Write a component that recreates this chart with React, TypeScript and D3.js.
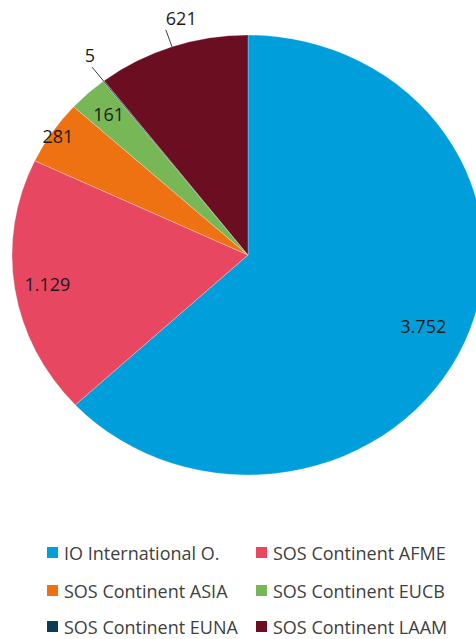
import React from "react";
import * as d3 from "d3";

const categories = [
  "IO International O.",
  "SOS Continent AFME",
  "SOS Continent ASIA",
  "SOS Continent EUCB",
  "SOS Continent EUNA",
  "SOS Continent LAAM",
];
const values = [3752, 1129, 281, 161, 5, 621];
const colors = ["#009EDB", "#E84762", "#EE7211", "#77B755", "#0B3D52", "#6B0E22"];

// layout (not data): label placement per slice
const labelRadius = [0.81, 0.86, 0.97, 0.87, 1.0, 1.0];
const outside = [false, false, false, false, true, true];
const outsideAnchor = ["start", "start", "start", "start", "end", "start"];

const W = 476;
const H = 639;
const cx = 248;
const cy = 255;
const R = 220;
const sx = 236 / 220;

const fmt = d3
  .formatLocale({ decimal: ",", thousands: ".", grouping: [3], currency: ["", ""] })
  .format(",d");

const FONT = "'Open Sans', 'Noto Sans', sans-serif";

export default function App() {
  const pie = d3.pie<number>().sort(null).value((d) => d)(values);
  const arc = d3.arc<d3.PieArcDatum<number>>().innerRadius(0).outerRadius(R);

  const legendRows = [552, 590, 626];
  const legendCols = [47, 256];

  return (
    <svg
      width={W}
      height={H}
      style={{ position: "absolute", left: 0, top: 0, background: "#fff" }}
      fontFamily={FONT}
    >
      <g transform={`translate(${cx},${cy}) scale(${sx},1)`}>
        {pie.map((p, i) => (
          <path key={i} d={arc(p) || ""} fill={colors[i]} stroke="#fff" strokeWidth={0.25} />
        ))}
      </g>
      {pie.map((p, i) => {
        const a = (p.startAngle + p.endAngle) / 2;
        const s = Math.sin(a);
        const c = -Math.cos(a);
        if (!outside[i]) {
          const r = R * labelRadius[i];
          const x = cx + s * r * sx;
          const y = cy + c * r;
          return (
            <text
              key={i}
              x={x}
              y={y}
              textAnchor="middle"
              dominantBaseline="central"
              fontSize={18}
              fill="#1a1a1a"
            >
              {fmt(values[i])}
            </text>
          );
        }
        const ex = cx + s * R * sx;
        const ey = cy + c * R;
        const dx = s * sx;
        const dy = c;
        const len = Math.hypot(dx, dy);
        const lx = ex + (dx / len) * 18;
        const ly = ey + (dy / len) * 18;
        return (
          <g key={i}>
            <line x1={ex} y1={ey} x2={lx} y2={ly} stroke="#404040" strokeWidth={1} />
            <text
              x={outsideAnchor[i] === "end" ? lx + 3 : lx}
              y={ly - 5}
              textAnchor={outsideAnchor[i]}
              fontSize={18}
              fill="#1a1a1a"
            >
              {fmt(values[i])}
            </text>
          </g>
        );
      })}
      {categories.map((cat, i) => {
        const row = Math.floor(i / 2);
        const col = i % 2;
        const x = legendCols[col];
        const y = legendRows[row];
        return (
          <g key={cat}>
            <rect x={x} y={y - 5} width={11} height={11} fill={colors[i]} />
            <text x={x + 17} y={y + 1} dominantBaseline="central" fontSize={18} fill="#404040">
              {cat}
            </text>
          </g>
        );
      })}
    </svg>
  );
}
